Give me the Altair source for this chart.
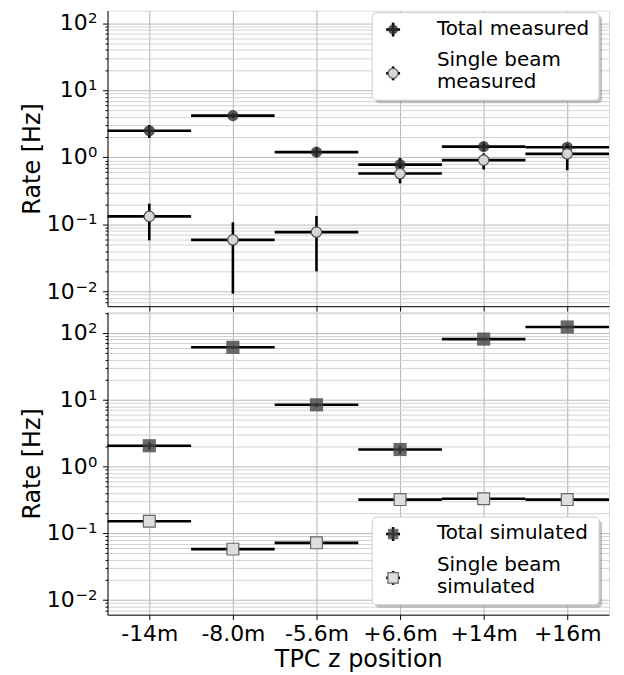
import json
import altair as alt
import pandas as pd

# ---------------- data ----------------
positions = ["-14m", "-8.0m", "-5.6m", "+6.6m", "+14m", "+16m"]

total_meas = [2.5, 4.2, 1.2, 0.78, 1.45, 1.42]
total_meas_lo = [1.95, 3.85, 1.02, 0.62, 1.25, 1.25]
total_meas_hi = [3.05, 4.55, 1.40, 0.98, 1.68, 1.60]

single_meas = [0.132, 0.059, 0.077, 0.575, 0.91, 1.13]
single_meas_lo = [0.058, 0.0093, 0.020, 0.41, 0.66, 0.645]
single_meas_hi = [0.204, 0.108, 0.134, 0.74, 1.15, 1.50]

total_sim = [2.05, 61.0, 8.4, 1.80, 81.0, 123.0]
total_sim_lo = [1.80, 58.0, 7.8, 1.55, 77.0, 118.0]
total_sim_hi = [2.30, 64.0, 9.0, 2.05, 85.0, 128.0]

single_sim = [0.152, 0.058, 0.072, 0.32, 0.33, 0.32]
single_sim_lo = [0.145, 0.0525, 0.060, 0.31, 0.32, 0.31]
single_sim_hi = [0.158, 0.062, 0.076, 0.33, 0.34, 0.33]

decades = [0.01, 0.1, 1, 10, 100]
exponents = ["\u22122", "\u22121", "0", "1", "2"]

top_legend = ["Total measured", "Single beam\nmeasured"]
bottom_legend = ["Total simulated", "Single beam\nsimulated"]

FONT = "DejaVu Sans"
W = 504

# ---------------- axes / scales ----------------
xscale = alt.Scale(domain=[-0.5, 5.5], nice=False, zero=False)
label_expr_x = json.dumps(positions, ensure_ascii=False) + "[datum.value]"

def x_axis(show):
    if show:
        return alt.Axis(values=list(range(6)), labelExpr=label_expr_x, title="TPC z position",
                        grid=True, gridColor="#b0b0b0", labelFlush=False, labelOverlap=False,
                        tickSize=5, labelPadding=4, titlePadding=3)
    return alt.Axis(values=list(range(6)), labels=False, title=None, grid=True,
                    gridColor="#b0b0b0", tickSize=5)

major_test = "abs(log(datum.value)/LN10 - round(log(datum.value)/LN10)) < 1e-6"

def y_values(lo, hi):
    vals = []
    for e in range(-3, 3):
        for k in range(1, 10):
            v = round(k * 10 ** e, 6)
            if lo <= v <= hi:
                vals.append(v)
    return vals

def y_axis(lo, hi):
    return alt.Axis(values=y_values(lo, hi), labels=False, title="Rate [Hz]",
                    grid=True,
                    gridColor={"condition": {"test": major_test, "value": "#b8b8b8"}, "value": "#d2d2d2"},
                    tickSize={"condition": {"test": major_test, "value": 5}, "value": 2.5},
                    titlePadding=58)


def decade_labels(yscale, yax):
    df = pd.DataFrame({"v": decades, "e": exponents})
    base = alt.Chart(df).transform_calculate(n="length(datum.e)")
    layers = []
    for n, x10 in [(1, -20), (2, -33)]:
        sub = base.transform_filter(f"datum.n == {n}")
        layers.append(sub.mark_text(align="right", baseline="middle", fontSize=22, font=FONT,
                                    color="black", text="10").encode(
            x=alt.value(x10), y=alt.Y("v:Q", scale=yscale, axis=yax)))
    layers.append(base.mark_text(align="right", baseline="middle", fontSize=15, font=FONT,
                                 color="black", dy=-5).encode(
        x=alt.value(-10), y=alt.Y("v:Q", scale=yscale, axis=yax), text="e:N"))
    return layers


def series_layers(vals, lo, hi, yscale, yax, xax, shape, size, fill, stroke, fill_opacity):
    df = pd.DataFrame({
        "i": list(range(len(vals))),
        "v": vals,
        "lo": lo,
        "hi": hi,
    })
    base = alt.Chart(df).transform_calculate(x0="datum.i - 0.5", x1="datum.i + 0.5")
    hbar = base.mark_rule(color="black", strokeWidth=2.6).encode(
        x=alt.X("x0:Q", scale=xscale, axis=xax), x2="x1:Q",
        y=alt.Y("v:Q", scale=yscale, axis=yax))
    vbar = base.mark_rule(color="black", strokeWidth=2.6).encode(
        x=alt.X("i:Q", scale=xscale, axis=xax),
        y=alt.Y("lo:Q", scale=yscale, axis=yax), y2="hi:Q")
    pt_kwargs = dict(shape=shape, size=size, filled=True, fill=fill, fillOpacity=fill_opacity,
                     opacity=1)
    if stroke:
        pt_kwargs.update(stroke=stroke, strokeWidth=1.2)
    else:
        pt_kwargs.update(strokeWidth=0)
    pts = base.mark_point(**pt_kwargs).encode(
        x=alt.X("i:Q", scale=xscale, axis=xax),
        y=alt.Y("v:Q", scale=yscale, axis=yax))
    return [hbar, vbar, pts]


def legend_layers(labels, box_y, shape, size, styles):
    one = pd.DataFrame({"k": [0]})
    bx0, bx1 = 266, 494
    by0, by1 = box_y, box_y + 88
    layers = [
        alt.Chart(one).mark_rect(fill="#888888", opacity=0.5, cornerRadius=4).encode(
            x=alt.value(bx0 + 3), x2=alt.value(bx1 + 3), y=alt.value(by0 + 3), y2=alt.value(by1 + 3)),
        alt.Chart(one).mark_rect(fill="white", stroke="#cccccc", strokeWidth=1, cornerRadius=4).encode(
            x=alt.value(bx0), x2=alt.value(bx1), y=alt.value(by0), y2=alt.value(by1)),
    ]
    sym_y = [box_y + 17, box_y + 61]
    txt_y = [box_y + 16, box_y + 48]
    for lab, sy, ty, st in zip(labels, sym_y, txt_y, styles):
        d = pd.DataFrame({"label": [lab]})
        layers.append(alt.Chart(d).mark_rule(color="black", strokeWidth=2.6).encode(
            x=alt.value(280), x2=alt.value(294), y=alt.value(sy)))
        layers.append(alt.Chart(d).mark_rule(color="black", strokeWidth=2.6).encode(
            x=alt.value(287), y=alt.value(sy - 7), y2=alt.value(sy + 7)))
        kw = dict(shape=shape, size=size, filled=True, fill=st[0], fillOpacity=st[2])
        if st[1]:
            kw.update(stroke=st[1], strokeWidth=1.2)
        else:
            kw.update(strokeWidth=0)
        layers.append(alt.Chart(d).mark_point(**kw).encode(x=alt.value(287), y=alt.value(sy)))
        layers.append(alt.Chart(d).mark_text(align="left", baseline="middle", fontSize=20,
                                             font=FONT, lineBreak="\n", lineHeight=22,
                                             color="black").encode(
            x=alt.value(331), y=alt.value(ty), text="label:N"))
    return layers


# ---------------- top panel ----------------
top_lo, top_hi = 10 ** -2.218, 10 ** 2.188
yscale_top = alt.Scale(type="log", domain=[top_lo, top_hi], nice=False)
yax_top = y_axis(top_lo, top_hi)
xax_top = x_axis(False)

dark_c = ("#2e2e2e", None, 0.8)
light_c = ("#d6d6d6", "#505050", 1.0)

top_layers = (
    series_layers(total_meas, total_meas_lo, total_meas_hi, yscale_top, yax_top, xax_top,
                  "circle", 125, dark_c[0], None, dark_c[2])
    + series_layers(single_meas, single_meas_lo, single_meas_hi, yscale_top, yax_top, xax_top,
                    "circle", 110, light_c[0], light_c[1], 1.0)
    + decade_labels(yscale_top, yax_top)
    + legend_layers(top_legend, 2, "circle", 100, [dark_c, light_c])
)
top = alt.layer(*top_layers).properties(width=W, height=297)

# ---------------- bottom panel ----------------
bot_lo, bot_hi = 10 ** -2.218, 10 ** 2.312
yscale_bot = alt.Scale(type="log", domain=[bot_lo, bot_hi], nice=False)
yax_bot = y_axis(bot_lo, bot_hi)
xax_bot = x_axis(True)

dark_s = ("#444444", None, 0.8)
light_s = ("#dedede", "#666666", 1.0)

bot_layers = (
    series_layers(total_sim, total_sim_lo, total_sim_hi, yscale_bot, yax_bot, xax_bot,
                  "square", 175, dark_s[0], None, dark_s[2])
    + series_layers(single_sim, single_sim_lo, single_sim_hi, yscale_bot, yax_bot, xax_bot,
                    "square", 140, light_s[0], light_s[1], 1.0)
    + decade_labels(yscale_bot, yax_bot)
    + legend_layers(bottom_legend, 206, "square", 110, [dark_s, light_s])
)
bottom = alt.layer(*bot_layers).properties(width=W, height=304)

chart = alt.vconcat(top, bottom, spacing=6, bounds="flush").properties(
    padding={"left": 12, "top": 0, "right": 5, "bottom": 5}
).configure_view(
    stroke="black", strokeWidth=1
).configure(
    font=FONT
).configure_axis(
    labelFont=FONT, titleFont=FONT, labelFontSize=22, titleFontSize=24,
    labelColor="black", titleColor="black", titleFontWeight="normal",
    domainColor="black", tickColor="black", tickWidth=1, domainWidth=1, gridWidth=1
)

chart.save("out.html", embed_options={"renderer": "svg", "actions": False})
